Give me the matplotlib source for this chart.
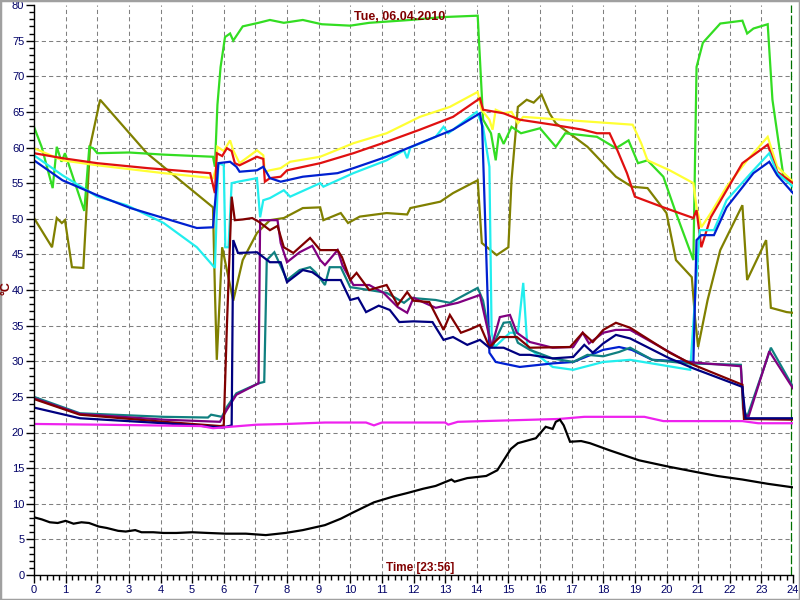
import matplotlib
matplotlib.use("Agg")
import matplotlib.pyplot as plt
from matplotlib.patches import Rectangle

# ---------------- data (hours, degC) ----------------
green_h = [0.0, 0.24, 0.59, 0.72, 0.87, 0.98, 1.59, 1.75, 1.87, 2.0, 3.0, 4.1, 5.66, 5.72, 5.8, 5.9,
           6.04, 6.2, 6.3, 6.6, 7.1, 7.46, 7.9, 8.5, 9.1, 10.0, 10.6, 11.9, 12.9, 14.03, 14.2, 14.45,
           14.6, 14.7, 14.85, 15.1, 15.4, 16.0, 16.5, 16.8, 17.8, 18.4, 18.8, 19.1, 19.4, 19.9, 20.3,
           20.85, 20.95, 21.15, 21.7, 22.4, 22.55, 22.75, 23.2, 23.35, 23.7, 24.0]
green_v = [62.9, 60.1, 54.3, 60.1, 58.0, 59.2, 51.1, 60.1, 59.9, 59.2, 59.3, 59.0, 58.7, 57.3, 66.0, 71.3,
           75.5, 76.0, 75.0, 77.0, 77.5, 77.9, 77.5, 77.9, 77.3, 77.1, 77.5, 77.9, 78.3, 78.5, 63.9, 62.0,
           58.2, 62.0, 60.5, 62.9, 62.0, 62.7, 60.1, 62.0, 61.5, 59.9, 61.0, 57.8, 58.2, 55.9, 50.8,
           44.2, 71.3, 74.7, 77.4, 77.8, 76.0, 76.7, 77.3, 66.7, 55.9, 55.0]

yellow_h = [0.0, 0.9, 2.0, 4.1, 5.66, 5.75, 5.8, 6.0, 6.2, 6.3, 6.5, 7.05, 7.25, 7.3, 7.46, 7.8, 8.1,
            9.05, 10.1, 11.15, 12.2, 13.15, 14.03, 14.15, 14.4, 14.5, 14.6, 14.85, 15.1, 15.3, 15.47,
            17.0, 18.93, 19.2, 19.4, 20.1, 20.85, 20.95, 21.1, 21.4, 21.9, 22.55, 23.2, 23.5, 24.0]
yellow_v = [59.9, 58.2, 57.5, 56.4, 55.7, 57.0, 60.1, 59.5, 61.0, 59.6, 57.8, 59.6, 58.9, 56.6, 56.8, 57.1, 58.0,
            58.7, 60.6, 62.0, 64.3, 65.7, 67.8, 65.3, 63.9, 62.5, 65.3, 64.8, 65.0, 63.4, 64.3,
            63.8, 63.2, 60.6, 58.2, 56.8, 55.0, 51.6, 48.8, 50.8, 54.5, 58.2, 61.5, 57.3, 55.2]

red_h = [0.0, 0.9, 2.0, 3.6, 5.57, 5.72, 5.78, 5.95, 6.1, 6.25, 6.35, 6.5, 7.05, 7.25, 7.3, 7.46, 7.8,
         8.0, 9.05, 10.1, 11.15, 12.2, 13.25, 14.1, 14.2, 14.85, 15.36, 16.4, 17.35, 17.8, 18.2, 18.4,
         18.75, 19.0, 19.9, 20.85, 20.95, 21.1, 21.4, 21.9, 22.4, 23.2, 23.5, 24.0]
red_v = [59.2, 58.5, 57.8, 57.1, 56.4, 53.6, 59.2, 58.8, 59.9, 59.5, 57.8, 57.5, 58.7, 58.4, 55.2, 55.7, 55.9,
         56.8, 57.8, 59.2, 60.8, 62.5, 64.3, 66.9, 65.3, 64.8, 63.9, 63.2, 62.5, 62.0, 62.0, 60.1,
         56.4, 53.1, 51.6, 50.1, 51.2, 46.0, 50.2, 54.0, 57.8, 60.4, 56.6, 55.0]

blue_h = [0.0, 0.9, 2.0, 3.05, 4.1, 5.15, 5.66, 5.83, 6.2, 6.4, 6.5, 7.05, 7.25, 7.46, 7.8, 8.5, 9.6,
          10.1, 11.15, 12.2, 13.25, 14.1, 14.17, 14.4, 14.6, 15.36, 16.4, 17.05, 18.0, 18.5, 18.9,
          19.55, 20.85, 20.95, 21.1, 21.5, 21.9, 22.75, 23.25, 23.5, 24.0]
blue_v = [58.2, 55.4, 53.3, 51.5, 50.1, 48.7, 48.8, 57.8, 58.0, 57.3, 56.6, 56.8, 57.3, 55.7, 55.2, 55.9, 56.4,
          57.1, 58.7, 60.6, 62.5, 64.8, 63.0, 31.2, 29.9, 29.2, 29.7, 29.9, 31.6, 32.0, 31.6,
          30.2, 29.9, 47.0, 47.7, 47.7, 51.6, 56.4, 58.0, 56.1, 53.6]

cyan_h = [0.0, 0.9, 2.0, 2.93, 4.1, 5.15, 5.72, 5.83, 6.0, 6.05, 6.15, 6.25, 6.45, 7.05, 7.15, 7.25,
          7.46, 7.9, 8.1, 9.05, 9.15, 10.1, 11.15, 11.7, 11.8, 11.9, 12.7, 12.95, 13.1, 14.0, 14.2,
          14.4, 14.47, 14.57, 15.05, 15.3, 15.47, 15.6, 16.4, 17.05, 18.0, 18.85, 19.8, 20.75, 21.05,
          21.5, 21.9, 22.75, 23.25, 23.5, 24.0]
cyan_v = [58.9, 56.1, 53.1, 51.9, 49.4, 46.0, 43.1, 57.8, 57.5, 46.0, 46.0, 55.0, 55.2, 55.7, 50.2, 52.6,
          52.9, 54.0, 53.1, 55.0, 54.5, 56.4, 58.2, 59.6, 58.5, 60.0, 61.5, 62.9, 62.0, 65.0, 62.9,
          57.3, 34.0, 32.0, 34.0, 34.0, 41.0, 32.0, 29.2, 28.8, 29.9, 30.2, 29.5, 28.8, 48.4,
          48.4, 52.6, 56.8, 59.2, 56.4, 54.5]

olive_h = [0.0, 0.57, 0.72, 0.88, 0.98, 1.2, 1.56, 1.77, 2.09, 3.57, 5.66, 5.72, 5.78, 5.95, 6.3, 6.6,
           7.05, 7.46, 7.9, 8.5, 9.05, 9.15, 9.7, 9.93, 10.3, 11.15, 11.8, 11.9, 12.85, 13.25, 14.03,
           14.16, 14.63, 15.0, 15.1, 15.3, 15.58, 15.8, 16.05, 16.3, 16.5, 17.5, 18.4, 18.9, 19.4,
           20.0, 20.3, 20.8, 20.9, 21.0, 21.3, 21.7, 22.4, 22.55, 23.15, 23.3, 23.8, 24.0]
olive_v = [50.1, 46.0, 50.1, 49.4, 49.8, 43.2, 43.1, 60.1, 66.7, 59.2, 51.6, 40.0, 30.2, 46.0, 38.5, 44.2,
           48.0, 49.8, 50.1, 51.5, 51.6, 49.8, 50.8, 49.4, 50.3, 50.8, 50.6, 51.5, 52.4, 53.6, 55.4,
           46.6, 44.9, 46.0, 55.4, 65.7, 66.7, 66.3, 67.4, 64.8, 63.4, 60.1, 55.9, 54.5, 54.3,
           50.8, 44.2, 41.8, 36.2, 32.0, 38.6, 45.6, 51.9, 41.4, 47.0, 37.5, 36.9, 36.8]

maroon_h = [0.0, 1.45, 4.1, 5.9, 6.0, 6.1, 6.25, 6.35, 6.6, 6.9, 7.1, 7.46, 7.7, 7.9, 8.2, 8.73, 9.05,
            9.6, 9.74, 10.0, 10.2, 10.6, 11.15, 11.5, 11.8, 12.0, 12.5, 12.95, 13.15, 13.5, 13.8, 14.1,
            14.4, 14.73, 15.27, 15.68, 16.95, 17.15, 17.35, 17.67, 18.0, 18.4, 18.85, 20.1, 20.85,
            22.4, 22.45, 24.0]
maroon_v = [24.7, 22.5, 21.5, 20.9, 21.0, 35.0, 53.1, 49.8, 49.9, 50.1, 49.6, 48.4, 49.0, 46.0, 45.2, 47.3, 45.6,
            45.6, 44.6, 41.4, 42.4, 40.0, 40.7, 37.9, 39.7, 38.5, 38.3, 34.4, 36.5, 34.0, 34.5, 35.1,
            32.0, 33.4, 33.4, 31.9, 32.0, 33.0, 34.0, 32.7, 34.4, 35.4, 34.7, 31.2, 29.5,
            26.7, 21.9, 21.8]

purple_h = [0.0, 1.45, 4.1, 5.88, 6.1, 6.4, 7.1, 7.15, 7.7, 7.8, 8.0, 8.4, 8.8, 9.05, 9.2, 9.6, 9.75,
            10.1, 10.6, 11.05, 11.5, 11.8, 12.0, 12.7, 13.4, 14.1, 14.47, 14.73, 15.05, 15.27, 15.68,
            16.4, 17.05, 17.35, 17.55, 18.0, 18.4, 18.85, 20.65, 22.35, 22.45, 22.6, 23.25, 24.0]
purple_v = [24.8, 22.6, 21.8, 21.5, 23.2, 25.3, 26.9, 49.8, 49.8, 46.6, 43.9, 45.3, 46.2, 44.2, 43.5, 45.6, 43.5,
            40.7, 40.7, 39.6, 37.6, 36.8, 38.9, 37.5, 38.2, 39.3, 32.0, 36.2, 36.5, 34.0, 32.7,
            31.9, 32.0, 34.0, 32.5, 34.0, 34.4, 34.4, 29.9, 29.3, 22.5, 22.3, 31.4, 26.2]

teal_h = [0.0, 1.45, 4.1, 5.5, 5.6, 5.94, 6.1, 6.4, 7.1, 7.28, 7.36, 7.6, 8.0, 8.4, 8.73, 8.9, 9.2, 9.35,
          9.7, 10.0, 10.6, 11.15, 11.7, 11.9, 12.7, 13.15, 14.03, 14.2, 14.47, 14.85, 15.05, 15.3,
          15.68, 16.4, 17.05, 17.5, 18.0, 18.5, 18.85, 19.55, 20.65, 22.35, 22.42, 22.55, 23.3, 24.0]
teal_v = [25.0, 22.7, 22.2, 22.1, 22.5, 22.2, 23.6, 25.5, 26.9, 27.1, 44.2, 45.3, 41.4, 42.8, 43.2, 42.5, 40.7, 43.2,
          43.2, 40.4, 40.0, 39.6, 38.2, 38.9, 38.6, 38.2, 40.3, 38.5, 31.9, 35.4, 35.5, 32.6,
          31.6, 30.4, 29.9, 30.9, 30.7, 31.3, 31.9, 30.2, 29.7, 29.5, 23.4, 22.2, 31.9, 26.4]

navy_h = [0.0, 1.45, 4.1, 5.97, 6.25, 6.3, 6.45, 7.05, 7.46, 7.8, 8.0, 8.5, 8.8, 9.15, 9.7, 10.0, 10.25,
          10.5, 10.9, 11.25, 11.55, 12.0, 12.6, 12.95, 13.25, 13.7, 14.1, 14.4, 14.85, 15.36, 15.68,
          16.4, 17.05, 17.4, 17.67, 18.0, 18.4, 18.85, 20.1, 20.85, 22.4, 22.5, 24.0]
navy_v = [23.5, 22.0, 21.3, 20.7, 21.0, 47.0, 45.2, 45.3, 43.9, 43.9, 41.1, 42.8, 42.5, 41.4, 41.4, 38.6, 38.9,
          36.9, 37.8, 37.2, 35.5, 35.6, 35.5, 33.0, 33.4, 32.3, 33.0, 31.9, 31.9, 30.9, 30.9,
          30.4, 30.6, 32.3, 31.2, 32.5, 33.7, 33.2, 30.4, 29.0, 26.4, 22.0, 22.0]

magenta_h = [0.0, 2.0, 5.3, 5.66, 6.2, 7.05, 8.0, 9.2, 10.5, 10.75, 11.0, 13.0, 13.1, 13.4, 15.0, 16.6,
             17.4, 19.3, 19.9, 22.4, 22.9, 24.0]
magenta_v = [21.2, 21.1, 20.9, 20.6, 20.8, 21.1, 21.2, 21.4, 21.4, 21.0, 21.4, 21.4, 21.1, 21.5, 21.7, 21.9,
             22.2, 22.2, 21.6, 21.6, 21.3, 21.3]

black_h = [0.0, 0.25, 0.5, 0.75, 1.0, 1.25, 1.5, 1.74, 2.05, 2.3, 2.66, 2.9, 3.2, 3.4, 3.77, 4.1, 4.5,
           5.0, 5.5, 6.07, 6.7, 7.33, 7.95, 8.5, 9.2, 9.7, 10.1, 10.75, 11.35, 11.8, 12.3, 12.7, 13.2,
           13.3, 13.7, 14.3, 14.65, 15.08, 15.3, 15.87, 16.18, 16.4, 16.5, 16.63, 16.75, 16.95, 17.3,
           17.58, 18.2, 18.6, 19.13, 20.07, 21.0, 21.6, 22.4, 23.2, 24.0]
black_v = [8.1, 7.8, 7.4, 7.3, 7.6, 7.2, 7.4, 7.3, 6.8, 6.6, 6.2, 6.1, 6.3, 6.0, 6.0, 5.9, 5.9,
           6.0, 5.9, 5.8, 5.8, 5.6, 5.9, 6.3, 7.0, 7.9, 8.8, 10.2, 11.0, 11.5, 12.1, 12.5, 13.4,
           13.1, 13.6, 13.9, 14.7, 17.7, 18.5, 19.2, 20.8, 20.5, 21.5, 21.8, 21.0, 18.7, 18.8,
           18.5, 17.5, 16.9, 16.1, 15.2, 14.4, 13.9, 13.4, 12.8, 12.3]

x_ticks = list(range(0, 25))
y_ticks = list(range(0, 81, 5))
title_text = "Tue, 06.04.2010"
xlabel_text = "Time [23:56]"
ylabel_text = "°C"
now_hour = 23 + 56 / 60

series = [
    (olive_h, olive_v, "#808000"),
    (green_h, green_v, "#33dd22"),
    (yellow_h, yellow_v, "#ffff33"),
    (red_h, red_v, "#e01010"),
    (cyan_h, cyan_v, "#22eeee"),
    (blue_h, blue_v, "#0020d0"),
    (teal_h, teal_v, "#108080"),
    (purple_h, purple_v, "#800080"),
    (maroon_h, maroon_v, "#800000"),
    (navy_h, navy_v, "#000080"),
    (magenta_h, magenta_v, "#ee22ee"),
    (black_h, black_v, "#000000"),
]

# ---------------- figure ----------------
plt.rcParams['font.family'] = ['Liberation Sans', 'DejaVu Sans']
fig = plt.figure(figsize=(8, 6), dpi=100)
fig.patch.set_facecolor("white")
ax = fig.add_axes([34 / 800, 25 / 600, 759 / 800, 570 / 600])
ax.set_facecolor("white")
ax.set_xlim(0, 24)
ax.set_ylim(0, 80)

for t in x_ticks[1:-1]:
    ax.axvline(t, color="#808080", lw=0.75, ls=(0, (4, 3)), zorder=0)
for t in y_ticks[1:-1]:
    ax.axhline(t, color="#808080", lw=0.75, ls=(0, (4, 3)), zorder=0)
ax.axvline(now_hour, color="#007000", lw=0.9, ls=(0, (7, 2)), zorder=1)

for hx, vy, col in series:
    ax.plot(hx, vy, color=col, lw=1.6, solid_joinstyle="miter", zorder=2)

ax.set_xticks(x_ticks)
ax.set_yticks(y_ticks)
ax.set_xticks([i / 5 for i in range(0, 121)], minor=True)
ax.set_yticks(list(range(0, 81)), minor=True)
ax.tick_params(which="major", direction="out", length=6, width=1, color="black",
               labelsize=8, labelcolor="#000066", pad=1)
ax.tick_params(which="minor", direction="out", length=3.5, width=1, color="black")
for s in ["top", "right"]:
    ax.spines[s].set_visible(False)
for s in ["left", "bottom"]:
    ax.spines[s].set_color("black")
    ax.spines[s].set_linewidth(1)

fig.text(400 / 800, 1 - 17 / 600, title_text, ha="center", va="center", color="#800000",
         fontsize=9, fontweight="bold", zorder=10)
fig.text(420 / 800, 1 - 568 / 600, xlabel_text, ha="center", va="center", color="#800000",
         fontsize=8.5, fontweight="bold", zorder=10)
fig.text(7 / 800, 1 - 288 / 600, ylabel_text, ha="center", va="center", color="#800000",
         fontsize=9, fontweight="bold", rotation=90, zorder=10)

fig.patches.append(Rectangle((0, 0), 1, 1, transform=fig.transFigure, fill=False,
                             edgecolor="#a0a0a0", lw=2.5))

fig.savefig("out.png", dpi=100, facecolor="white")
